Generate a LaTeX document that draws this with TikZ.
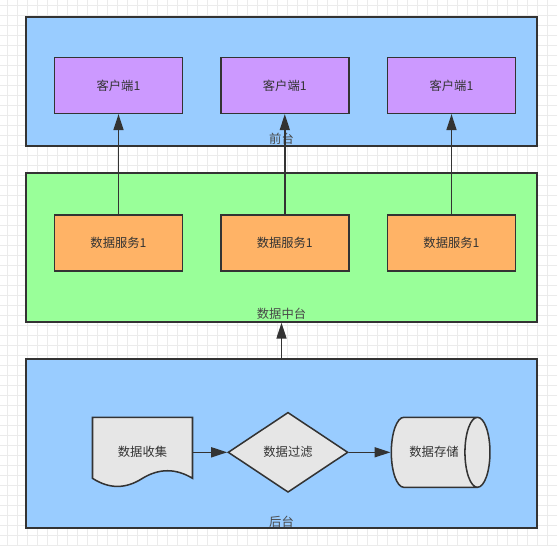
\documentclass[tikz,border=0pt]{standalone}
\usepackage{fontspec}
\setmainfont{Noto Sans CJK SC}
\usepackage{tikz}
\usetikzlibrary{arrows.meta, positioning, shapes.geometric}
\definecolor{linec}{HTML}{333333}
\definecolor{gridc}{HTML}{EBEBEB}
\definecolor{frontc}{HTML}{99CCFF}
\definecolor{midc}{HTML}{99FF99}
\definecolor{clientc}{HTML}{CC99FF}
\definecolor{svcc}{HTML}{FFB366}
\definecolor{procc}{HTML}{E6E6E6}

\begin{document}
\begin{tikzpicture}[x=0.03cm, y=-0.03cm,
  panel/.style={draw=linec, line width=1.7pt, minimum width=15.33cm, inner sep=0pt},
  box/.style={draw=linec, line width=1.3pt, minimum width=3.84cm, minimum height=1.67cm,
    font=\fontsize{10.5}{12}\selectfont, text=linec},
  tag/.style={font=\fontsize{10.5}{12}\selectfont, text=linec!90, inner sep=0pt},
  proc/.style={draw=linec, line width=1.3pt, fill=procc},
  flow/.style={draw=linec, line width=1.3pt, -{Triangle[length=4.8mm, width=3mm]}}]
  \useasboundingbox (0,0) rectangle (557,546);
  % background grid
  \fill[white] (0,0) rectangle (557,546);
  \foreach \gx in {7,17,...,557} \draw[gridc, line width=0.4pt] (\gx,0) -- (\gx,546);
  \foreach \gy in {5,15,...,546} \draw[gridc, line width=0.4pt] (0,\gy) -- (557,\gy);

  % three layers
  \node[panel, fill=frontc, minimum height=3.88cm] (front) at (281.5,81.3) {};
  \node[panel, fill=midc, minimum height=4.45cm] (mid) at (281.5,247.5) {};
  \node[panel, fill=frontc, minimum height=5.05cm] (back) at (281.5,443.5) {};
  \node[tag] (frontlbl) at (281.5,139) {前台};
  \node[tag] (midlbl) at (281.5,314) {数据中台};
  \node[tag] (backlbl) at (281.5,521.7) {后台};

  % clients and services
  \foreach \i/\x in {1/118.5, 2/284.8, 3/451.5} {
    \node[box, fill=clientc] (cli\i) at (\x,85.5) {客户端1};
    \node[box, fill=svcc] (svc\i) at (\x,242.9) {数据服务1};
    \draw[flow] (svc\i.north) -- (cli\i.south);
  }
  \draw[flow] (back.north) -- (mid.south);

  % back-end flow
  \draw[proc] (92.5,417.3) -- (192.5,417.3) -- (192.5,478.3)
    .. controls (175.8,468.2) and (159.2,468.2) .. (142.5,478.3)
    .. controls (125.8,489.1) and (109.2,489.1) .. (92.5,478.3) -- cycle;
  \node[tag, text=linec, minimum width=3cm, minimum height=2.1cm] (collect) at (142.5,452.3) {数据收集};
  \node[diamond, proc, aspect=1.5, minimum width=3.6cm, minimum height=2.4cm, inner sep=0pt,
    tag, text=linec] (filter) at (288,452.3) {数据过滤};
  \node[cylinder, proc, aspect=2.2, minimum width=2.1cm, minimum height=2.96cm, inner sep=0pt,
    tag, text=linec] (store) at (434,452.3) {数据存储};
  \draw[flow] (collect.east) -- (filter.west);
  \draw[flow] (filter.east) -- (store.west);
\end{tikzpicture}
\end{document}
